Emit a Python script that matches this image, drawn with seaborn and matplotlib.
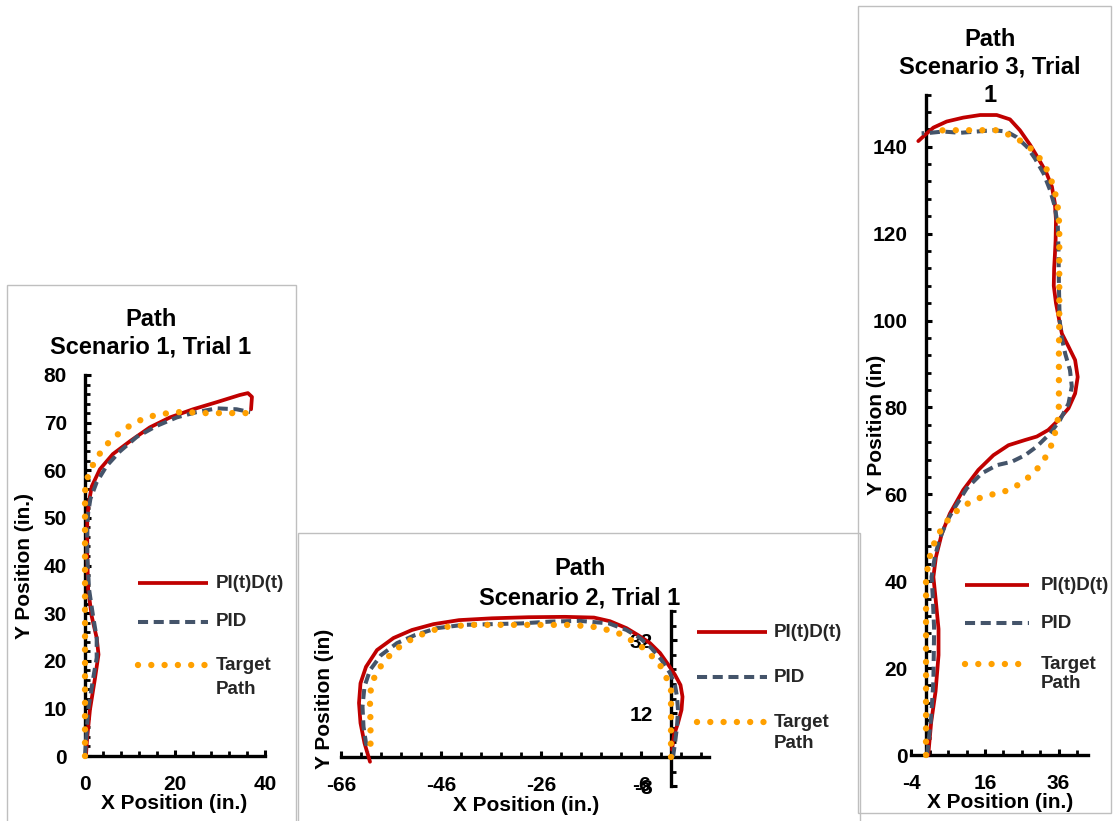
import numpy as np
import pandas as pd
import matplotlib
matplotlib.use("Agg")
import matplotlib.pyplot as plt
import seaborn as sns
from matplotlib.lines import Line2D
from matplotlib.patches import Rectangle
from matplotlib.ticker import MultipleLocator

# Scenario 1 paths (inches)
s1_pitd_x = [0.2, 0.5, 1.1, 2.2, 3.0, 2.6, 1.5, 0.7, 0.5, 0.5, 0.8, 1.5, 3.3, 6.2, 10, 14.4, 18.9, 24, 29.3, 34.4, 36.2, 37.1, 36.9]
s1_pitd_y = [0, 4, 9.7, 16.2, 21.3, 24.8, 29.3, 35, 42, 49.5, 53, 56.6, 60.2, 63.4, 66.1, 69, 71.1, 72.8, 74.3, 75.8, 76.2, 75.4, 72.8]
s1_pid_x = [0, 0.3, 0.7, 1.8, 2.6, 2.6, 1.8, 0.9, 0.5, 0.5, 0.7, 1.2, 2.6, 4.8, 7.8, 11.5, 15.9, 20.4, 24.8, 29.3, 33.7, 36.7]
s1_pid_y = [0, 4, 9.7, 16.2, 20.6, 24.8, 29.3, 35, 42, 48, 51, 54, 57.5, 60.9, 64, 67, 69.3, 71.1, 72.2, 73, 72.8, 72.2]
s1_target_x = [0, 0, 0, 0, 0, 0, 0, 0.1, 1.1, 2.6, 4.2, 6.2, 8.7, 11.3, 14, 17.1, 20, 22.9, 26, 28.9, 31.8, 35.1, 36]
s1_target_y = [0, 10, 20, 30, 40, 50, 55, 57, 60, 62.5, 64.8, 66.7, 68.6, 70.1, 71.2, 71.8, 72.2, 72.2, 72, 72, 72, 72, 72]

# Scenario 2 paths
s2_pitd_x = [0.2, 0.6, 1.4, 2.1, 2.3, 1.9, 0.8, -0.5, -2.2, -4.2, -6.6, -8.9, -12.2, -15.4, -21.2, -28.5, -35.8, -42.4, -47.5,
             -51.8, -55.5, -58.8, -61, -62.1, -62.4, -62.1, -61.3, -60.2]
s2_pitd_y = [2, 6, 9.3, 12.9, 16.5, 19.7, 22.5, 25.2, 28.5, 31.2, 33.4, 35.3, 37.2, 38.2, 38.4, 38.3, 38, 37.5, 36.4,
             34.8, 32.6, 29.3, 24.7, 20.2, 14.8, 9.3, 3.8, -1.3]
s2_pid_x = [0.4, 0.8, 1.2, 1.4, 1.2, 0.8, -0.2, -1.9, -3.9, -6.2, -8.9, -12.4, -18.3, -24.1, -30, -35.8, -41.6, -46.8,
            -51.2, -54.8, -58, -60.2, -61.3, -61.7, -61.5, -61, -60.6]
s2_pid_y = [0, 3.8, 8.3, 12.9, 16.5, 19.7, 23, 26.6, 29.8, 32.6, 34.8, 36.6, 37.3, 37.1, 36.6, 36.4, 36.2, 35.3,
            33.4, 31.2, 27.9, 23.8, 19.3, 13.8, 8.3, 3.8, 1.5]
s2_target_x = [0, 0, 0, 0, 0, 0, -1, -2.2, -4, -6.2, -8.5, -10.6, -13.2, -15.7, -18.3, -20.9, -23.8, -26.3, -29.2,
               -31.8, -34.7, -37.2, -40.2, -42.8, -45.3, -48.2, -50.8, -53.3, -55.5, -57.3, -58.8, -59.9, -60.2,
               -60.2, -60.1, -60.1, -60.1]
s2_target_y = [0, 3.3, 6.9, 11, 14.5, 18.4, 22, 25.2, 27.9, 30.6, 32.4, 34, 35, 35.7, 36, 36.2, 36.2, 36.2, 36.2,
               36.2, 36.2, 36.2, 36.2, 35.9, 35.6, 34.5, 33, 31.2, 28.9, 26.3, 23.4, 20, 16.5,
               13.3, 10.1, 6.2, 2.7]

# Scenario 3 paths
s3_pitd_x = [0.6, 1.4, 2.6, 3.4, 3.4, 2.6, 2.0, 2.7, 4.3, 6.5, 10.1, 14.2, 18.3, 22.4, 26.9, 30.1, 33.2, 36, 38.7,
             40.5, 41.2, 40.5, 38.7, 36.9, 36.2, 35.3, 34.7, 34.8, 35, 35.2, 35.3, 35, 34.2, 32.6, 30.5, 28.3,
             25.5, 22.8, 19.2, 14.7, 10.1, 5.6, 2, -0.3, -2.1]
s3_pitd_y = [0, 7.5, 14.7, 23, 29, 36, 41, 45.6, 51, 55.6, 61, 65.6, 69, 71.3, 72.5, 73.3, 74.8, 77.1, 79.8,
             83.2, 87, 90.9, 94, 97, 100, 104, 108, 112, 115, 118.5, 123.1, 127, 130.8, 134.2, 137.3, 140.4,
             143.8, 146.3, 147.3, 147.3, 146.7, 145.8, 144.4, 142.7, 141.3]
s3_pid_x = [0.3, 1.4, 2.0, 2.2, 1.8, 1.5, 2.4, 3.6, 5.6, 7.9, 11.1, 15.1, 19.2, 23.3, 26.9, 30.1, 33.7, 36.4, 38.7,
            39.6, 39.1, 37.8, 36.9, 36.3, 36.1, 36, 35.8, 35, 33.7, 31.9, 29.6, 27.4, 24.6, 21.9, 18.3, 13.8,
            9.2, 4.7, 1.1, -1.2]
s3_pid_y = [0, 8.7, 17, 29, 37, 41, 45.6, 49.5, 53.7, 57.1, 61.4, 64.8, 66.7, 67.5, 69, 71, 74, 77.1, 80.9,
            84.8, 88.6, 92.4, 95.9, 100, 108, 115.5, 121.6, 126.2, 130, 133.9, 137.3, 140, 142.2, 143.5, 143.8, 143.5,
            143.2, 143.5, 143.2, 143.1]
s3_target_x = [0, 0, 0, 0, 0, 0, 1.3, 2.7, 4.5, 6.8, 9.5, 12.7, 16.2, 18.8, 22.2, 25.5, 28.4, 31, 32.8, 34.4, 35.3,
               36, 36.1, 36.1, 36.1, 36.2, 36.2, 36.2, 36.2, 36, 35.5, 34.6, 33.5, 31.7, 29.3, 26.4, 23.3, 19.4,
               16, 12.7, 9.1, 5.4, 1.8]
s3_target_y = [0, 10, 20, 30, 38, 41, 46.8, 49.7, 52.5, 55, 57, 58.5, 59.7, 60.1, 60.9, 62.4, 64.3, 66.6, 69, 72, 75,
               78.1, 81.1, 87, 93, 100, 108, 115.5, 121.6, 124.7, 127.9, 130.8, 133.6, 136.5, 139, 141, 142.5, 143.8,
               143.8, 143.8, 143.8, 143.8, 143.7]

series_names = ["PI(t)D(t)", "PID", "Target\nPath"]

RED = "#C00000"
SLATE = "#44546A"
ORANGE = "#FFA000"
W, H = 1113, 821

sns.set_theme(style="white")
plt.rcParams["font.family"] = ["Liberation Sans", "DejaVu Sans"]
plt.rcParams["font.weight"] = "bold"
plt.rcParams["axes.unicode_minus"] = False

fig = plt.figure(figsize=(W / 100, H / 100), dpi=100)
fig.patch.set_facecolor("white")


def fx(px):
    return px / W


def fy(py):
    return 1 - py / H


line_styles = {
    "PI(t)D(t)": dict(color=RED, lw=2.7, ls="-", cap="round"),
    "PID": dict(color=SLATE, lw=2.9, ls=(0, (2.5, 1.4)), cap="butt"),
    "Target\nPath": dict(color=ORANGE, lw=4.6, ls=(0, (0.001, 2.08)), cap="round"),
}


def make_panel(left, right, top, bottom, xlim, ylim, xmaj, xmin, ymaj, ymin, xoff, yoff, paths):
    ax = fig.add_axes([fx(left), fy(bottom), fx(right) - fx(left), fy(top) - fy(bottom)])
    ax.set_facecolor("none")
    for name, (xs, ys) in zip(series_names, paths):
        st = line_styles[name]
        sns.lineplot(x=xs, y=ys, sort=False, estimator=None, ax=ax, color=st["color"],
                     linewidth=st["lw"], linestyle=st["ls"], legend=False, zorder=4)
        ln = ax.lines[-1]
        ln.set_dash_capstyle(st["cap"])
        ln.set_solid_capstyle("round")
        ln.set_solid_joinstyle("round")
        ln.set_clip_on(False)
    ax.set_xlim(*xlim)
    ax.set_ylim(*ylim)
    for s in ["top", "right"]:
        ax.spines[s].set_visible(False)
    for s in ["left", "bottom"]:
        ax.spines[s].set_position(("data", 0))
        ax.spines[s].set_linewidth(2.4)
        ax.spines[s].set_color("black")
        ax.spines[s].set_zorder(1)
    ax.set_axisbelow(True)
    ax.xaxis.set_major_locator(MultipleLocator(xmaj, offset=xoff))
    ax.xaxis.set_minor_locator(MultipleLocator(xmin, offset=xoff))
    ax.yaxis.set_major_locator(MultipleLocator(ymaj, offset=yoff))
    ax.yaxis.set_minor_locator(MultipleLocator(ymin, offset=yoff))
    ax.tick_params(which="major", direction="in", length=4.2, width=2.2, color="black", labelsize=15)
    ax.tick_params(which="minor", direction="in", length=3.5, width=2.0, color="black")
    ax.tick_params(axis="x", which="major", pad=13.5)
    ax.tick_params(axis="y", which="major", pad=13)
    ax.tick_params(which="both", bottom=True, left=True)
    for lab in ax.get_xticklabels() + ax.get_yticklabels():
        lab.set_fontweight("bold")
        lab.set_color("black")
    ax.set_xlabel("")
    ax.set_ylabel("")
    ax.grid(False)
    return ax


ax1 = make_panel(85, 265, 375, 756, (0, 40), (0, 80), 20, 4, 10, 2, 0, 0,
                 [(s1_pitd_x, s1_pitd_y), (s1_pid_x, s1_pid_y), (s1_target_x, s1_target_y)])
ax2 = make_panel(341, 708.5, 611, 786.2, (-66, 7.5), (-8, 40), 20, 4, 20, 4, -66, -8,
                 [(s2_pitd_x, s2_pitd_y), (s2_pid_x, s2_pid_y), (s2_target_x, s2_target_y)])
ax3 = make_panel(911.3, 1088, 94.6, 755, (-4, 44), (0, 152), 20, 5, 20, 4, -4, 0,
                 [(s3_pitd_x, s3_pitd_y), (s3_pid_x, s3_pid_y), (s3_target_x, s3_target_y)])

# chart area borders
for (l, t, r, b) in [(7, 285, 296, 830), (298, 533, 860, 830), (858, 6, 1111, 813)]:
    fig.add_artist(Rectangle((fx(l), fy(b)), fx(r) - fx(l), fy(t) - fy(b), transform=fig.transFigure,
                             fill=False, edgecolor="#BFBFBF", lw=1.0, zorder=0))


def txt(px, py, s, size, rot=0):
    fig.text(fx(px), fy(py), s, ha="center", va="center", fontsize=size, fontweight="bold",
             rotation=rot, color="black")


# titles
txt(151, 320, "Path", 17)
txt(151, 347, "Scenario 1, Trial 1", 17)
txt(580, 568, "Path", 17)
txt(580, 598, "Scenario 2, Trial 1", 17)
txt(990, 39, "Path", 17)
txt(990, 67, "Scenario 3, Trial", 17)
txt(990, 96, "1", 17)

# axis titles
txt(25, 566, "Y Position (in.)", 15, 90)
txt(174, 803, "X Position (in.)", 15)
txt(324, 699, "Y Position (in)", 15, 90)
txt(526, 805, "X Position (in.)", 15)
txt(877, 425, "Y Position (in)", 15, 90)
txt(1000, 802, "X Position (in.)", 15)


# legends
def legend(x0, x1, xt, rows, path_dy):
    for name, ry in zip(series_names, rows):
        st = line_styles[name]
        ln = Line2D([fx(x0), fx(x1)], [fy(ry), fy(ry)], transform=fig.transFigure, color=st["color"],
                    lw=st["lw"], linestyle=st["ls"], dash_capstyle=st["cap"], solid_capstyle="butt")
        fig.add_artist(ln)
        first = name.split("\n")
        fig.text(fx(xt), fy(ry), first[0], ha="left", va="center", fontsize=13.5, fontweight="bold")
        if len(first) > 1:
            fig.text(fx(xt), fy(ry + path_dy), first[1], ha="left", va="center", fontsize=13.5, fontweight="bold")


legend(138, 208, 216, [583, 622, 665], 24)
legend(697, 767, 774, [632, 677, 722], 21)
legend(965, 1029, 1041, [585, 623, 664], 20)

fig.savefig("out.png", dpi=100)
